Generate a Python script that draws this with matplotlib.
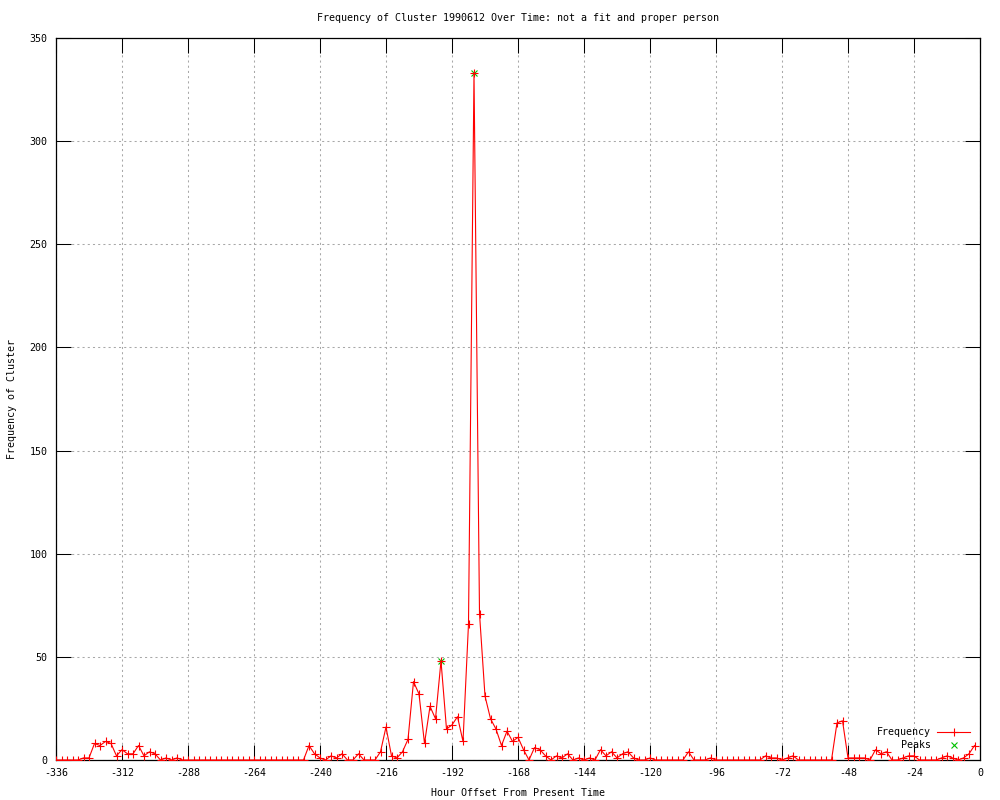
import numpy as np
import matplotlib
matplotlib.use("Agg")
import matplotlib.pyplot as plt

# Hourly offsets (every 2 hours) and cluster frequency counts
hours = np.arange(-336, 0, 2)
freq = [
    0, 0, 0, 0, 0, 1, 1, 8, 7, 9, 8, 2, 5, 3, 3, 7, 2, 4, 3, 0,
    1, 0, 1, 0, 0, 0, 0, 0, 0, 0, 0, 0, 0, 0, 0, 0, 0, 0, 0, 0,
    0, 0, 0, 0, 0, 0, 7, 3, 1, 0, 2, 1, 3, 0, 0, 3, 0, 0, 0, 4,
    16, 2, 1, 4, 10, 38, 32, 8, 26, 20, 48, 15, 17, 21, 9, 66, 333, 71, 31, 20,
    15, 7, 14, 9, 11, 5, 0, 6, 5, 2, 0, 2, 1, 3, 0, 1, 0, 1, 0, 5,
    2, 4, 1, 3, 4, 1, 0, 0, 1, 0, 0, 0, 0, 0, 0, 4, 0, 0, 0, 1,
    0, 0, 0, 0, 0, 0, 0, 0, 0, 2, 1, 1, 0, 1, 2, 0, 0, 0, 0, 0,
    0, 0, 18, 19, 1, 1, 1, 1, 0, 5, 3, 4, 0, 0, 1, 2, 2, 0, 0, 0,
    0, 1, 2, 1, 0, 1, 3, 7,
]

peak_hours = [-196, -184]
peak_freq = [48, 333]

x_ticks = np.arange(-336, 1, 24)
y_ticks = np.arange(0, 351, 50)

plt.rcParams['font.family'] = 'DejaVu Sans Mono'
plt.rcParams['font.size'] = 7.2
plt.rcParams['axes.unicode_minus'] = False

fig = plt.figure(figsize=(10, 8), dpi=100)
ax = fig.add_axes([0.056, 0.05, 0.924, 0.9025])

ax.plot(hours, freq, color='#ff0000', lw=0.8, marker='+', markersize=6,
        markeredgewidth=0.8, label='Frequency', zorder=4)
ax.plot(peak_hours, peak_freq, color='#00c000', lw=0, marker='x', markersize=5,
        markeredgewidth=0.8, label='    Peaks', zorder=3)

ax.set_xlim(-336, 0)
ax.set_ylim(0, 350)
ax.set_xticks(x_ticks)
ax.set_yticks(y_ticks)
ax.grid(True, color='#a8a8a8', linestyle=(0, (2, 3)), linewidth=0.75)

ax.tick_params(direction='in', top=True, right=True, length=11, width=0.75,
               labelsize=7.2, color='black')
ax.tick_params(axis='x', pad=6)
ax.tick_params(axis='y', pad=6)
for s in ax.spines.values():
    s.set_linewidth(0.9)

ax.set_title('Frequency of Cluster 1990612 Over Time: not a fit and proper person',
             fontsize=7.2, pad=12)
ax.set_xlabel('Hour Offset From Present Time')
ax.set_ylabel('Frequency of Cluster')
ax.xaxis.set_label_coords(0.5, -0.039)
ax.yaxis.set_label_coords(-0.042, 0.5)

ax.legend(loc='lower right', frameon=False, markerfirst=False, handlelength=3.3,
          fontsize=7.2, borderaxespad=0.6, labelspacing=0.3, handletextpad=0.6)

fig.savefig('out.png', dpi=100)
